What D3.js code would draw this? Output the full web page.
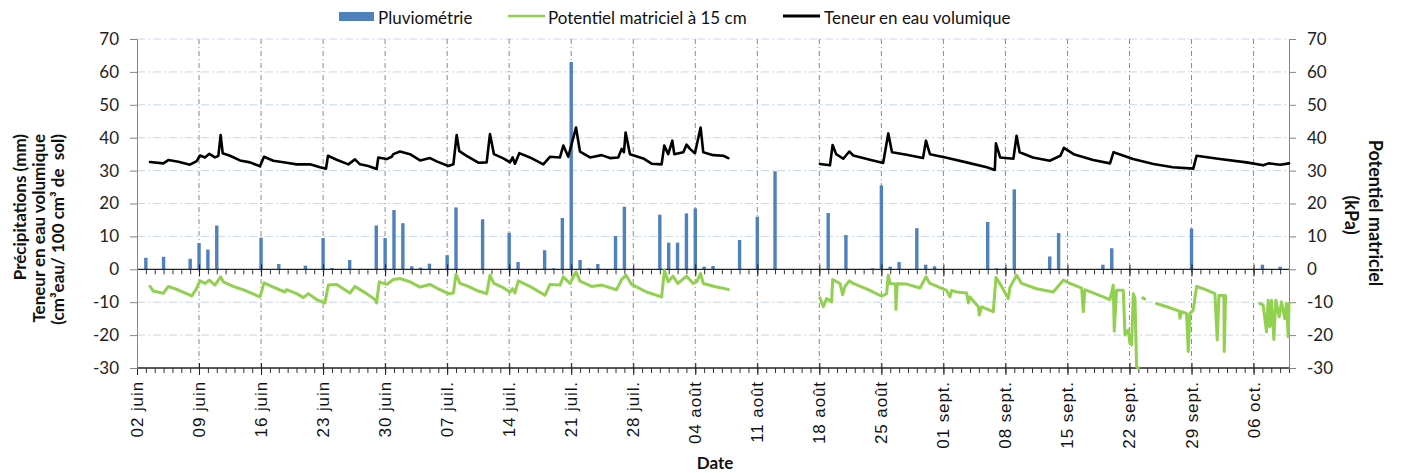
<!DOCTYPE html>
<html lang="fr">
<head>
<meta charset="utf-8">
<title>Pluviométrie, potentiel matriciel et teneur en eau</title>
<script src="https://cdn.jsdelivr.net/npm/d3@7"></script>
<style>
  html, body { margin: 0; padding: 0; background: #fff; }
  svg { display: block; font-family: Lato, "Liberation Sans", sans-serif; }
</style>
</head>
<body>
<div id="chart"></div>
<script>
// Date de départ de la série (jour 0 = 02 juin)
const startDate = new Date(Date.UTC(2014, 5, 2));
const nbDays = 130;

// Étiquettes de l'axe des dates (une par semaine)
const tickLabels = ["02 juin", "09 juin", "16 juin", "23 juin", "30 juin", "07 juil.", "14 juil.",
  "21 juil.", "28 juil.", "04 août", "11 août", "18 août", "25 août", "01 sept.", "08 sept.",
  "15 sept.", "22 sept.", "29 sept.", "06 oct."];
const yTicks = [-30, -20, -10, 0, 10, 20, 30, 40, 50, 60, 70];

// Pluviométrie journalière (jour depuis le 02 juin, mm)
const rainDay = [1, 3, 6, 7, 8, 9, 14, 16, 19, 21, 22, 24, 27, 28, 29, 30, 31, 32, 33, 35, 36,
  39, 42, 43, 46, 47, 48, 49, 50, 51, 52, 54, 55, 59, 60, 61, 62, 63, 64, 65, 68, 70, 72,
  78, 80, 83, 84, 85, 86, 88, 89, 90, 96, 97, 98, 99, 103, 104, 109, 110, 119, 127, 129];
const rainMm = [3.5, 3.8, 3.2, 8.0, 6.0, 13.3, 9.6, 1.6, 1.1, 9.5, 0.4, 2.8, 13.3, 9.5, 18.0, 14.0, 0.9, 0.5, 1.7, 4.3, 18.8,
  15.2, 11.1, 2.2, 5.8, 0.3, 15.6, 63.0, 2.8, 0.3, 1.6, 10.1, 19.0, 16.6, 8.1, 8.1, 17.0, 18.5, 0.8, 1.0, 8.9, 16.0, 29.8,
  17.1, 10.4, 0.3, 25.5, 0.8, 2.2, 12.5, 1.4, 0.9, 14.4, 0.3, 0.3, 24.3, 3.9, 11.0, 1.4, 6.4, 12.4, 1.4, 0.8];

// Teneur en eau volumique (cm3 eau / 100 cm3 sol) ; null = pas de mesure
const waterDay = [1.47, 2.97, 3.54, 4.67, 5.98, 6.73, 7.11, 7.67, 8.16, 8.8, 9.18, 9.44, 9.67, 10.49, 11.62, 12.75,
  13.88, 14.33, 15.38, 16.89, 18.02, 19.52, 20.65, 21.33, 21.55, 22.53, 23.85, 24.6, 25.16, 26.1, 27.04, 27.23,
  28.17, 28.74, 28.93, 29.68, 30.81, 31.94, 33.07, 33.82, 35.14, 35.7, 36.07, 36.37, 37.2, 38.52,
  39.46, 39.83, 40.28, 41.34, 42.09, 42.39, 42.65, 43.14, 44.34, 45.85, 46.6, 47.73, 48.11, 48.67, 49.54, 49.99,
  51.12, 52.43, 53.37, 54.31, 54.69, 54.95, 55.14, 55.63, 57.13, 58.07, 59.2, 59.5, 59.95, 60.41, 60.63, 61.65,
  62.02, 62.4, 62.96, 63.6, 63.9, 65.03, 66.16, 66.73, 70,
  77.07, 78.2, 78.5, 78.9, 79.7, 80.38, 80.83, 82.71, 84.2, 84.78, 85.2, 86.85, 88.7, 89.03, 89.48, 91.36, 93.6,
  95.9, 96.8, 96.93, 97.4, 98.9, 99.26, 99.6, 101.1, 103.0, 104.2, 104.6, 105.7, 107.9, 109.8, 110.2, 112.4,
  114.7, 116.9, 119.2, 119.57, 122.2, 125.2, 127.1, 127.7, 129.0, 130.0];
const waterVol = [32.6, 32.2, 33.2, 32.7, 31.8, 32.9, 34.6, 34.0, 35.1, 34.0, 34.5, 40.8, 35.3, 34.5, 33.1, 32.5,
  31.3, 34.2, 33.0, 32.4, 31.9, 31.9, 31.0, 30.6, 34.5, 33.3, 31.9, 33.4, 31.9, 31.4, 30.5, 34.0,
  33.5, 34.2, 35.0, 35.8, 35.0, 33.1, 33.8, 32.8, 31.4, 31.9, 40.8, 35.9, 34.5, 32.4,
  32.5, 41.1, 35.0, 33.7, 32.5, 34.0, 32.1, 35.3, 34.0, 31.9, 34.2, 34.0, 37.6, 34.2, 43.1, 35.8,
  34.0, 34.7, 33.8, 34.0, 36.6, 35.6, 41.6, 35.0, 33.7, 32.1, 31.9, 37.6, 35.0, 39.1, 35.0, 35.6,
  37.9, 36.6, 35.3, 43.1, 35.6, 34.7, 34.5, 33.8, null,
  32.0, 31.6, 37.8, 35.0, 33.6, 35.8, 34.6, 33.3, 32.3, 41.3, 35.6, 34.8, 33.8, 39.1, 35.0, 33.9, 32.5,
  31.0, 30.2, 38.3, 34.0, 33.6, 40.6, 35.6, 34.0, 33.0, 34.5, 36.9, 35.0, 33.2, 32.2, 35.6, 33.5,
  32.0, 31.0, 30.6, 34.5, 33.5, 32.5, 31.6, 32.2, 31.8, 32.2];

// Potentiel matriciel à 15 cm (kPa) ; null = pas de mesure
const potDay = [1.47, 1.84, 2.97, 3.54, 4.67, 6.17, 6.66, 7.11, 7.67, 8.16, 8.8, 9.44, 9.74, 10.87, 12.37, 13.88,
  14.33, 15.38, 16.7, 16.89, 18.02, 18.77, 19.33, 20.27, 21.21, 21.59, 22.53, 24.03, 24.6, 25.91, 26.86, 27.04,
  27.34, 28.17, 28.93, 29.68, 30.81, 31.94, 33.07, 33.82, 35.14, 35.7, 36.0, 36.45, 37.39, 38.52,
  39.46, 39.83, 40.28, 41.34, 42.09, 42.39, 42.65, 43.03, 44.34, 46.04, 46.6, 47.73, 48.11, 48.86, 49.54, 49.99,
  51.31, 52.43, 54.12, 54.69, 55.18, 55.82, 57.51, 59.2, 59.52, 59.95, 60.47, 61.03, 62.02, 62.77, 63.15, 63.6,
  63.9, 65.41, 66.73, 70,
  77.07, 77.45, 77.82, 78.39, 78.5, 79.33, 79.63, 79.89, 80.38, 80.83, 82.71, 84.03, 84.59, 84.78, 84.97, 85.6,
  85.64, 85.79, 86.85, 88.35, 89.03, 89.48, 91.36, 91.74, 91.93, 92.49, 93.62, 93.81, 94.0, 94.94, 95.05, 95.31,
  96.63, 96.93, 97.57, 98.32, 98.51, 99.26, 99.83, 101.52, 103.4, 104.53, 105.28, 106.6, 106.79, 106.97,
  109.04, 109.79, 110.17, 110.28, 110.54, 111.3, 111.49, 111.86, 112.05, 112.24, 112.43, 112.62, 112.8, 112.99, 113.2,
  113.5, 113.7, 114.5,
  115.06, 116.56, 117.62, 117.69, 117.88, 118.44, 118.63, 118.82, 119.19, 119.57, 120.32, 121.64, 121.9, 122.09,
  122.65, 122.69, 122.84, 124,
  126.71, 127.09, 127.46, 127.65, 127.84, 128.03, 128.29, 128.52, 128.89, 129.16, 129.53, 129.72, 129.91, 130.0];
const potKpa = [-5.2, -6.6, -7.3, -5.2, -6.3, -8.1, -6.2, -3.5, -4.3, -3.3, -4.8, -2.3, -3.8, -5.2, -6.6, -8.4,
  -4.1, -5.4, -6.9, -6.2, -7.4, -8.6, -7.4, -9.2, -10.2, -4.8, -4.6, -7.2, -5.2, -7.4, -9.2, -10.2,
  -3.8, -4.6, -3.1, -2.8, -3.8, -5.4, -4.6, -5.7, -7.4, -7.2, -1.5, -4.3, -5.2, -6.6,
  -7.4, -1.8, -4.3, -5.6, -6.9, -5.9, -7.2, -3.5, -5.2, -7.9, -4.6, -4.8, -2.3, -4.3, -0.8, -3.6,
  -5.2, -4.8, -6.2, -3.1, -1.8, -4.6, -6.9, -8.4, -0.3, -3.8, -2.1, -4.3, -2.1, -4.3, -3.8, -1.3,
  -4.3, -5.4, -6.1, null,
  -8.7, -11.4, -8.9, -9.9, -3.1, -4.3, -7.7, -5.2, -3.5, -4.3, -6.4, -8.2, -7.4, -1.8, -4.3, -4.5,
  -12.2, -4.4, -4.5, -5.7, -2.3, -4.3, -6.4, -8.4, -6.4, -6.9, -7.2, -10.2, -8.4, -11.4, -13.9, -11.4,
  -12.9, -2.5, -5.2, -8.9, -5.5, -1.8, -4.3, -5.9, -6.9, -3.3, -4.3, -5.7, -12.9, -6.2,
  -8.4, -9.2, -4.8, -18.8, -6.4, -6.4, -20.0, -18.5, -22.5, -23.0, -7.4, -8.9, -29.6, -30.0, null,
  -8.7, -9.0, null,
  -10.4, -11.7, -12.7, -14.9, -12.9, -13.4, -25.0, -13.4, -12.4, -5.2, -5.9, -7.4, -21.5, -8.0,
  -8.0, -25.0, -8.0, null,
  -10.4, -10.9, -19.0, -9.4, -17.4, -9.4, -21.3, -9.4, -14.4, -9.9, -15.0, -10.4, -20.5, -10.4];

const toDate = d => new Date(startDate.getTime() + d * 864e5);

function drawChart() {
  const width = 1402;
  const height = 473;
  const margin = { top: 39, right: 113, bottom: 105, left: 137 };
  const blue = '#4f81bd';
  const green = '#92d050';

  const svg = d3.select('#chart')
    .append('svg')
    .attr('width', width)
    .attr('height', height);

  // Échelles
  const x = d3.scaleUtc()
    .domain([startDate, toDate(nbDays)])
    .range([margin.left, width - margin.right]);
  const y = d3.scaleLinear()
    .domain([-30, 70])
    .range([height - margin.bottom, margin.top]);

  const weekDates = tickLabels.map((_, i) => toDate(i * 7));
  const allDays = d3.range(0, nbDays + 1).map(toDate);

  // Grille horizontale (bleu clair, tiret-point)
  svg.append('g')
    .selectAll('line')
    .data(yTicks.filter(v => v !== 0 && v !== -30))
    .enter().append('line')
    .attr('x1', margin.left).attr('x2', width - margin.right)
    .attr('y1', d => y(d)).attr('y2', d => y(d))
    .attr('stroke', '#c5d6ee')
    .attr('stroke-width', 1)
    .attr('stroke-dasharray', '8,3,2,3');

  // Grille verticale hebdomadaire (gris, tiret-point)
  svg.append('g')
    .selectAll('line')
    .data(weekDates.slice(1))
    .enter().append('line')
    .attr('x1', d => x(d)).attr('x2', d => x(d))
    .attr('y1', margin.top).attr('y2', height - margin.bottom)
    .attr('stroke', '#8a8a8a')
    .attr('stroke-width', 1)
    .attr('stroke-dasharray', '5,3,1,3');

  // Barres de pluviométrie
  const barW = 3.4;
  svg.append('g')
    .selectAll('rect')
    .data(rainDay.map((d, i) => ({ date: toDate(d), v: rainMm[i] })))
    .enter().append('rect')
    .attr('x', d => x(d.date) - barW / 2)
    .attr('y', d => y(d.v))
    .attr('width', barW)
    .attr('height', d => y(0) - y(d.v))
    .attr('fill', blue);

  // Axes horizontaux (à 0 et en bas) avec graduations journalières
  function dateAxis(yPos) {
    const g = svg.append('g').attr('transform', `translate(0,${yPos})`);
    g.call(d3.axisBottom(x).tickValues(allDays).tickSize(5).tickFormat(''))
      .call(a => a.select('.domain').remove());
    g.selectAll('.tick line').attr('stroke', '#333');
    const gm = svg.append('g').attr('transform', `translate(0,${yPos})`);
    gm.call(d3.axisBottom(x).tickValues(weekDates).tickSize(7).tickFormat(''))
      .call(a => a.select('.domain').remove());
    gm.selectAll('.tick line').attr('y1', -5).attr('stroke', '#222');
    g.append('line')
      .attr('x1', margin.left).attr('x2', width - margin.right)
      .attr('stroke', '#222').attr('stroke-width', 1.3);
    return gm;
  }
  dateAxis(y(0));
  const bottomAxis = dateAxis(y(-30));
  bottomAxis.selectAll('.tick')
    .append('text')
    .text((d, i) => tickLabels[i])
    .attr('transform', 'translate(0,13) rotate(-90)')
    .attr('text-anchor', 'end')
    .attr('dominant-baseline', 'central')
    .attr('fill', '#111')
    .style('font-size', '17px')
    .style('letter-spacing', '0.9px');

  // Axes verticaux gauche et droit
  const leftAxis = svg.append('g')
    .attr('transform', `translate(${margin.left},0)`)
    .call(d3.axisLeft(y).tickValues(yTicks).tickSize(7).tickPadding(11));
  const rightAxis = svg.append('g')
    .attr('transform', `translate(${width - margin.right},0)`)
    .call(d3.axisRight(y).tickValues(yTicks).tickSize(7).tickPadding(11));
  [leftAxis, rightAxis].forEach(a => {
    a.select('.domain').attr('stroke', '#868686');
    a.selectAll('.tick line').attr('stroke', '#868686');
    a.selectAll('.tick text')
      .attr('fill', '#222')
      .style('font-size', '17px')
      .style('font-family', 'Lato, sans-serif');
  });
  leftAxis.selectAll('.tick text').text(d => d < 0 ? '-' + Math.abs(d) : d);
  rightAxis.selectAll('.tick text').text(d => d < 0 ? '-' + Math.abs(d) : d);

  // Courbes
  const line = d3.line()
    .defined(d => d.v !== null)
    .x(d => x(d.date))
    .y(d => y(d.v));

  svg.append('path')
    .datum(potDay.map((d, i) => ({ date: toDate(d), v: potKpa[i] })))
    .attr('d', line)
    .attr('fill', 'none')
    .attr('stroke', green)
    .attr('stroke-width', 3)
    .attr('stroke-linejoin', 'round')
    .attr('stroke-linecap', 'round');

  svg.append('path')
    .datum(waterDay.map((d, i) => ({ date: toDate(d), v: waterVol[i] })))
    .attr('d', line)
    .attr('fill', 'none')
    .attr('stroke', '#000')
    .attr('stroke-width', 2.6)
    .attr('stroke-linejoin', 'round')
    .attr('stroke-linecap', 'round');

  // Légende
  const leg = svg.append('g').style('font-size', '17px').attr('fill', '#111');
  leg.append('rect').attr('x', 339).attr('y', 12).attr('width', 35).attr('height', 9).attr('fill', blue);
  leg.append('text').attr('x', 378).attr('y', 17).attr('dominant-baseline', 'central').text('Pluviométrie');
  leg.append('line').attr('x1', 508).attr('x2', 545).attr('y1', 16).attr('y2', 16)
    .attr('stroke', green).attr('stroke-width', 2.5);
  leg.append('text').attr('x', 548).attr('y', 17).attr('dominant-baseline', 'central').text('Potentiel matriciel à 15 cm');
  leg.append('line').attr('x1', 783).attr('x2', 820).attr('y1', 16).attr('y2', 16)
    .attr('stroke', '#000').attr('stroke-width', 2.8);
  leg.append('text').attr('x', 824).attr('y', 17).attr('dominant-baseline', 'central').text('Teneur en eau volumique');

  // Titres des axes
  const titles = svg.append('g')
    .style('font-size', '17px')
    .style('font-weight', 'bold')
    .attr('fill', '#111');
  const leftLines = ['Précipitations (mm)', 'Teneur en eau volumique', '(cm³eau/ 100 cm³ de  sol)'];
  leftLines.forEach((t, i) => {
    titles.append('text')
      .attr('transform', `translate(${19 + i * 19},134) rotate(-90)`)
      .attr('text-anchor', 'end')
      .attr('dominant-baseline', 'central')
      .style('white-space', 'pre')
      .text(t);
  });
  titles.append('text')
    .attr('transform', 'translate(1376,213) rotate(90)')
    .attr('text-anchor', 'middle')
    .attr('dominant-baseline', 'central')
    .style('font-size', '18px')
    .text('Potentiel matriciel');
  titles.append('text')
    .attr('transform', 'translate(1352,215) rotate(90)')
    .attr('text-anchor', 'middle')
    .attr('dominant-baseline', 'central')
    .style('font-size', '18px')
    .text('(kPa)');
  titles.append('text')
    .attr('x', 715).attr('y', 462)
    .attr('text-anchor', 'middle')
    .attr('dominant-baseline', 'central')
    .text('Date');
}

drawChart();
</script>
</body>
</html>
